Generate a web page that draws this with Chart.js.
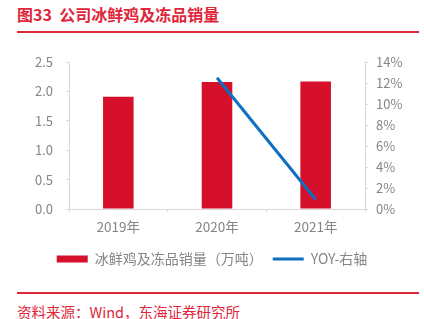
<!DOCTYPE html>
<html>
<head>
<meta charset="utf-8">
<script src="https://cdn.jsdelivr.net/npm/chart.js@4.4.1/dist/chart.umd.min.js"></script>
<style>
  html, body { margin: 0; padding: 0; background: #fff; }
  body { width: 424px; height: 319px; position: relative; overflow: hidden; font-family: "Noto Sans CJK SC", sans-serif; }
  .title { position: absolute; left: 17px; top: 4px; font-size: 16px; font-weight: bold; color: #E0263A; line-height: 20px; }
  .rule { position: absolute; left: 17px; width: 402px; background: #E0263A; }
  .source { position: absolute; left: 17px; top: 303px; font-size: 14.5px; color: #E0263A; line-height: 18px; }
  #wrap { position: absolute; left: 0; top: 40px; width: 424px; height: 236px; }
</style>
</head>
<body>
<div class="title">图33&nbsp;&nbsp;公司冰鲜鸡及冻品销量</div>
<div class="rule" style="top:31px;height:2px;"></div>
<div id="wrap"><canvas id="myChart"></canvas></div>
<div class="rule" style="top:292px;height:2px;"></div>
<div class="source">资料来源：Wind，东海证券研究所</div>

<script>
// данные графика
const years = ['2019年', '2020年', '2021年'];
const salesVolume = [1.91, 2.16, 2.17];
const yoyGrowth = [null, 12.5, 0.9];

const fontFamily = '"Noto Sans CJK SC", sans-serif';
const tickColor = '#858585';
const axisColor = '#d9d9d9';

var ctx = document.getElementById('myChart');
if (ctx) {
  var salesChart = new Chart(ctx, {
    data: {
      labels: years,
      datasets: [
        {
          type: 'bar',
          label: '冰鲜鸡及冻品销量（万吨）',
          data: salesVolume,
          backgroundColor: '#D6102A',
          borderWidth: 0,
          barPercentage: 0.31,
          categoryPercentage: 1,
          yAxisID: 'y',
          order: 2
        },
        {
          type: 'line',
          label: 'YOY-右轴',
          data: yoyGrowth,
          borderColor: '#0E6FC1',
          backgroundColor: '#0E6FC1',
          borderWidth: 3,
          pointRadius: 0,
          yAxisID: 'y1',
          order: 1
        }
      ]
    },
    options: {
      responsive: true,
      maintainAspectRatio: false,
      animation: false,
      layout: { padding: { top: 22, left: 0, right: 0, bottom: 0 } },
      plugins: {
        tooltip: { enabled: false },
        legend: {
          position: 'bottom',
          labels: {
            usePointStyle: true,
            pointStyleWidth: 31,
            boxHeight: 7,
            padding: 10,
            color: tickColor,
            font: { family: fontFamily, size: 14 },
            sort: (a, b) => a.datasetIndex - b.datasetIndex,
            generateLabels: function (chart) {
              const items = Chart.defaults.plugins.legend.labels.generateLabels(chart);
              items.forEach(item => {
                if (item.datasetIndex === 0) {
                  item.pointStyle = 'rect';
                  item.lineWidth = 0;
                  item.fillStyle = '#D6102A';
                } else {
                  item.pointStyle = 'line';
                  item.lineWidth = 3;
                  item.strokeStyle = '#0E6FC1';
                }
              });
              return items;
            }
          }
        }
      },
      scales: {
        x: {
          grid: { drawOnChartArea: false, color: axisColor, tickLength: 3 },
          border: { color: axisColor },
          ticks: { color: tickColor, padding: 7, font: { family: fontFamily, size: 13.5 } },
          afterFit: function (scale) { scale.height = 33; }
        },
        y: {
          position: 'left',
          min: 0,
          max: 2.5,
          grid: { drawOnChartArea: false, color: axisColor, tickLength: 3 },
          border: { color: axisColor },
          ticks: {
            stepSize: 0.5,
            color: tickColor,
            padding: 13,
            font: { family: fontFamily, size: 13 },
            callback: v => v.toFixed(1)
          },
          afterFit: function (scale) { scale.width = 69; }
        },
        y1: {
          position: 'right',
          min: 0,
          max: 14,
          grid: { drawOnChartArea: false, color: axisColor, tickLength: 3 },
          border: { color: axisColor },
          ticks: {
            stepSize: 2,
            color: tickColor,
            padding: 8,
            font: { family: fontFamily, size: 13 },
            callback: v => v + '%'
          },
          afterFit: function (scale) { scale.width = 59; }
        }
      }
    }
  });
}
</script>
</body>
</html>
